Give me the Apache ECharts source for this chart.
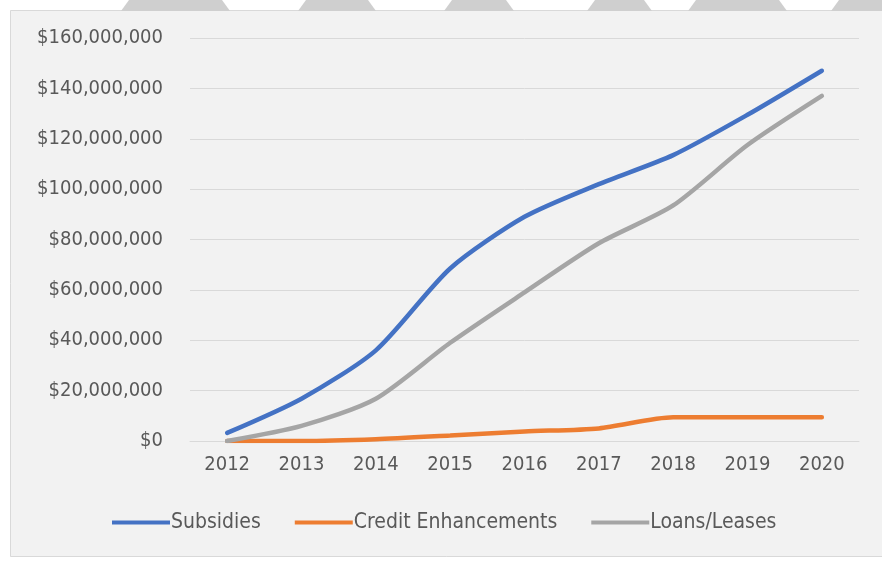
<!DOCTYPE html>
<html>
<head>
<meta charset="utf-8">
<script src="https://cdn.jsdelivr.net/npm/echarts@6/dist/echarts.min.js"></script>
<style>
  html, body { margin: 0; padding: 0; background: #ffffff; }
  #chart { width: 882px; height: 563px; }
</style>
</head>
<body>
<div id="chart"></div>
<script>
// Cumulative program totals by year
const years = ['2012', '2013', '2014', '2015', '2016', '2017', '2018', '2019', '2020'];
const subsidies = [3200000, 16800000, 36000000, 68500000, 89000000, 102000000, 113500000, 129500000, 147000000];
const creditEnhancements = [0, 0, 700000, 2200000, 3800000, 5000000, 9400000, 9400000, 9400000];
const loansLeases = [0, 6000000, 16800000, 39000000, 59000000, 78500000, 93500000, 117500000, 137000000];
const seriesNames = ['Subsidies', 'Credit Enhancements', 'Loans/Leases'];
const seriesColors = ['#4472C4', '#ED7D31', '#A5A5A5'];

const FONT = "'Liberation Sans Narrow', 'DejaVu Sans Condensed', 'Liberation Sans', sans-serif";

function money(v) {
  return '$' + Math.round(v).toString().replace(/\B(?=(\d{3})+(?!\d))/g, ',');
}

// Light stripes along the top edge of the page
const stripes = [
  [121, 230], [298, 376], [444, 514], [587, 652], [688, 787], [831, 900]
].map(function (s) {
  return {
    type: 'polygon',
    silent: true,
    shape: { points: [[s[0], 11], [s[0] + 8, 0], [s[1] - 8, 0], [s[1], 11]] },
    style: { fill: '#cfcfcf' }
  };
});

const chart = echarts.init(document.getElementById('chart'), null, { renderer: 'canvas' });

chart.setOption({
  backgroundColor: '#ffffff',
  animation: false,
  graphic: [
    {
      type: 'rect',
      silent: true,
      z: -10,
      shape: { x: 10.5, y: 10.5, width: 890, height: 546 },
      style: { fill: '#f2f2f2', stroke: '#d9d9d9', lineWidth: 1 }
    }
  ].concat(stripes),
  grid: { left: 190, right: 23, top: 38, bottom: 122, containLabel: false },
  legend: {
    bottom: 25,
    left: 107,
    itemWidth: 58,
    itemHeight: 4,
    itemGap: 34,
    icon: 'rect',
    textStyle: { fontFamily: FONT, fontSize: 21, color: '#595959', padding: [0, 0, 0, -4] },
    data: seriesNames
  },
  xAxis: {
    type: 'category',
    data: years,
    boundaryGap: true,
    axisLine: { show: true, lineStyle: { color: '#d9d9d9', width: 1 } },
    axisTick: { show: false },
    axisLabel: { fontFamily: FONT, fontSize: 20, color: '#595959', margin: 14 }
  },
  yAxis: {
    type: 'value',
    min: 0,
    max: 160000000,
    interval: 20000000,
    axisLine: { show: false },
    axisTick: { show: false },
    splitLine: { lineStyle: { color: '#d9d9d9', width: 1 } },
    axisLabel: {
      fontFamily: FONT, fontSize: 20, color: '#595959', margin: 27,
      formatter: money
    }
  },
  series: [
    { name: seriesNames[0], data: subsidies },
    { name: seriesNames[1], data: creditEnhancements },
    { name: seriesNames[2], data: loansLeases }
  ].map(function (s, i) {
    return {
      name: s.name,
      type: 'line',
      data: s.data,
      smooth: 0.25,
      showSymbol: false,
      symbol: 'none',
      color: seriesColors[i],
      lineStyle: { width: 4.5, color: seriesColors[i], cap: 'round' },
      z: 2 + i
    };
  })
});
</script>
</body>
</html>
